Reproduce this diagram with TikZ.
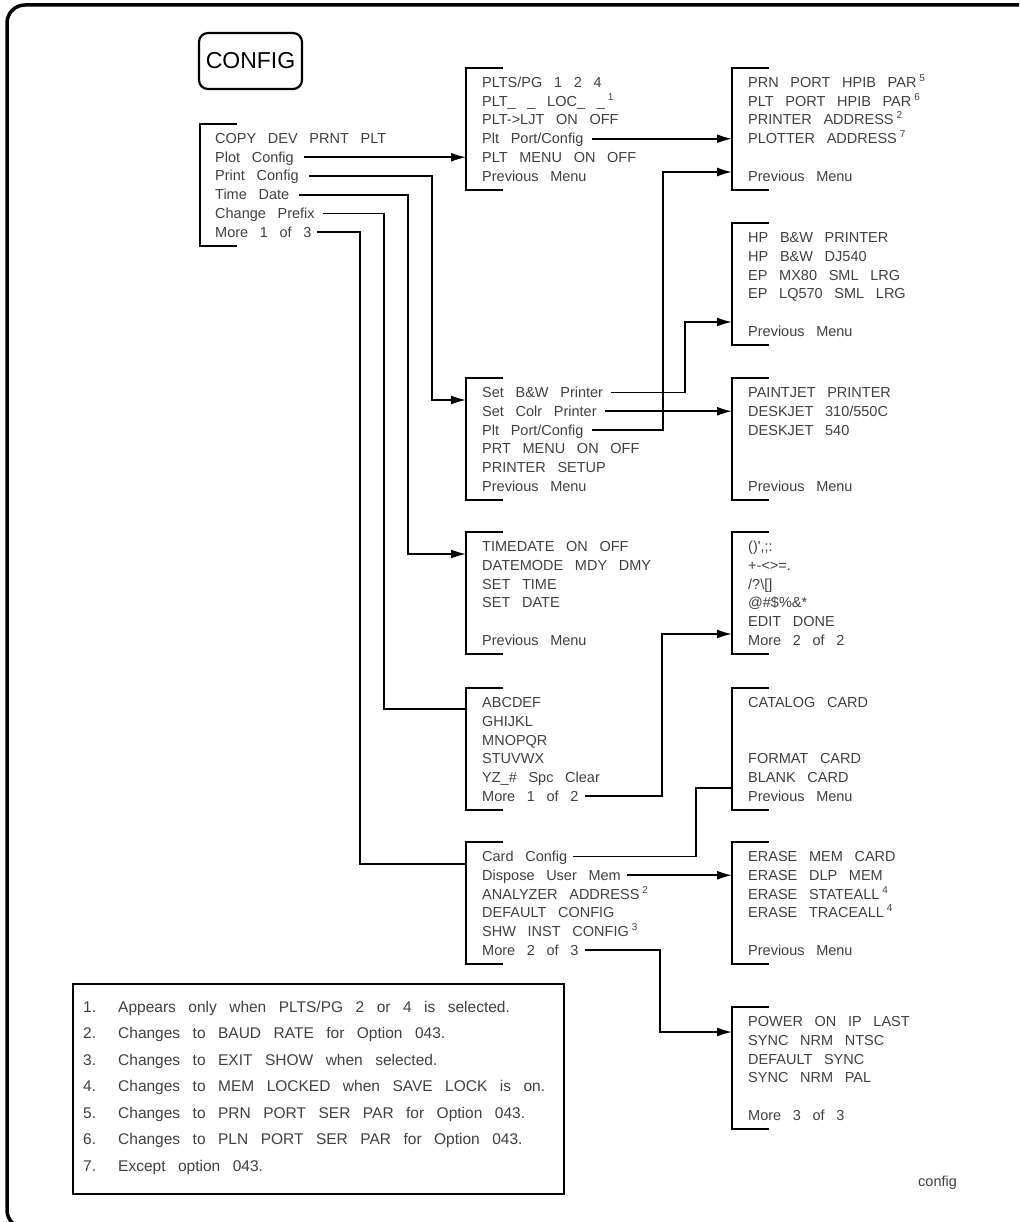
\documentclass[tikz,border=0pt]{standalone}
\usepackage{fontspec}
\setmainfont{Liberation Sans}[WordSpace=2.9]
\usetikzlibrary{arrows.meta}
\newcommand{\fnote}[1]{\hspace{3pt}\raisebox{6pt}{\fontsize{10}{12}\selectfont #1}}

\begin{document}
\begin{tikzpicture}[x=1pt, y=-1pt,
    bracket/.style={line width=2pt},
    conn/.style={line width=1.6pt},
    arrow/.style={conn, -{Latex[length=15pt,width=9pt]}},
    item/.style={anchor=west, inner sep=0pt, text height=10pt, text depth=0pt, text=black!75, font=\fontsize{14.5}{16}\selectfont},
    note/.style={item, font=\fontsize{15.5}{17}\selectfont},
    key/.style={draw, line width=2.2pt, rounded corners=9pt, minimum width=103pt, minimum height=56pt, inner sep=0pt, font=\fontsize{23}{26}\selectfont}]
    %Page
    \useasboundingbox (0,0) rectangle (1019,1222);
    \clip (0,0) rectangle (1019,1222);
    \draw[line width=3.5pt, rounded corners=18pt] (7,5) rectangle (1040,1228);

    %Key
    \node[key] (config) at (250.5,61) {CONFIG};

    %Entry Points
    \coordinate (plt-in) at (466,157.25);
    \coordinate (prt-in) at (466,400);
    \coordinate (time-in) at (466,554);
    \coordinate (alpha-in) at (466,709);
    \coordinate (card-in) at (466,864);
    \coordinate (prn-in) at (732,138.75);
    \coordinate (prn-back) at (732,172);
    \coordinate (hp-in) at (732,322);
    \coordinate (pj-in) at (732,411.25);
    \coordinate (chars-in) at (732,634);
    \coordinate (cat-in) at (732,788);
    \coordinate (erase-in) at (732,875.25);
    \coordinate (power-in) at (732,1032);

        %Main Menu
    \draw[bracket] (237,124) -| (200,246) -- ++(37,0);
    \foreach \row/\txt in {1/{COPY DEV PRNT PLT}, 2/{Plot Config}, 3/{Print Config}, 4/{Time Date}, 5/{Change Prefix}, 6/{More 1 of 3}}
        \node[item] (main-\row) at (215, {138.5+18.75*(\row-1)}) {\txt};

        %Middle Column
    \draw[bracket] (503,68) -| (466,190) -- ++(37,0);
    \foreach \row/\txt in {1/{PLTS/PG 1 2 4}, 2/{PLT\_ \_ LOC\_ \_\fnote{1}}, 3/{PLT-{}>LJT ON OFF}, 4/{Plt Port/Config}, 5/{PLT MENU ON OFF}, 6/{Previous Menu}}
        \node[item] (plt-\row) at (482, {82.5+18.75*(\row-1)}) {\txt};
    \draw[bracket] (503,378) -| (466,500) -- ++(37,0);
    \foreach \row/\txt in {1/{Set B\&W Printer}, 2/{Set Colr Printer}, 3/{Plt Port/Config}, 4/{PRT MENU ON OFF}, 5/{PRINTER SETUP}, 6/{Previous Menu}}
        \node[item] (prt-\row) at (482, {392.5+18.75*(\row-1)}) {\txt};
    \draw[bracket] (503,532) -| (466,654) -- ++(37,0);
    \foreach \row/\txt in {1/{TIMEDATE ON OFF}, 2/{DATEMODE MDY DMY}, 3/{SET TIME}, 4/{SET DATE}, 6/{Previous Menu}}
        \node[item] (time-\row) at (482, {546.5+18.75*(\row-1)}) {\txt};
    \draw[bracket] (503,688) -| (466,810) -- ++(37,0);
    \foreach \row/\txt in {1/ABCDEF, 2/GHIJKL, 3/MNOPQR, 4/STUVWX, 5/{YZ\_\# Spc Clear}, 6/{More 1 of 2}}
        \node[item] (alpha-\row) at (482, {702.5+18.75*(\row-1)}) {\txt};
    \draw[bracket] (503,842) -| (466,964) -- ++(37,0);
    \foreach \row/\txt in {1/{Card Config}, 2/{Dispose User Mem}, 3/{ANALYZER ADDRESS\fnote{2}}, 4/{DEFAULT CONFIG}, 5/{SHW INST CONFIG\fnote{3}}, 6/{More 2 of 3}}
        \node[item] (card-\row) at (482, {856.5+18.75*(\row-1)}) {\txt};

        %Right Column
    \draw[bracket] (769,68) -| (732,190) -- ++(37,0);
    \foreach \row/\txt in {1/{PRN PORT HPIB PAR\fnote{5}}, 2/{PLT PORT HPIB PAR\fnote{6}}, 3/{PRINTER ADDRESS\fnote{2}}, 4/{PLOTTER ADDRESS\fnote{7}}, 6/{Previous Menu}}
        \node[item] (prn-\row) at (748, {82.5+18.75*(\row-1)}) {\txt};
    \draw[bracket] (769,223) -| (732,345) -- ++(37,0);
    \foreach \row/\txt in {1/{HP B\&W PRINTER}, 2/{HP B\&W DJ540}, 3/{EP MX80 SML LRG}, 4/{EP LQ570 SML LRG}, 6/{Previous Menu}}
        \node[item] (hp-\row) at (748, {237.5+18.75*(\row-1)}) {\txt};
    \draw[bracket] (769,378) -| (732,500) -- ++(37,0);
    \foreach \row/\txt in {1/{PAINTJET PRINTER}, 2/{DESKJET 310/550C}, 3/{DESKJET 540}, 6/{Previous Menu}}
        \node[item] (pj-\row) at (748, {392.5+18.75*(\row-1)}) {\txt};
    \draw[bracket] (769,532) -| (732,654) -- ++(37,0);
    \foreach \row/\txt in {1/{()\textquotesingle,;:}, 2/{+-<>=.}, 3/{/?\textbackslash{[]}}, 4/{@\#\$\%\&*}, 5/{EDIT DONE}, 6/{More 2 of 2}}
        \node[item] (chars-\row) at (748, {546.5+18.75*(\row-1)}) {\txt};
    \draw[bracket] (769,688) -| (732,810) -- ++(37,0);
    \foreach \row/\txt in {1/{CATALOG CARD}, 4/{FORMAT CARD}, 5/{BLANK CARD}, 6/{Previous Menu}}
        \node[item] (cat-\row) at (748, {702.5+18.75*(\row-1)}) {\txt};
    \draw[bracket] (769,842) -| (732,964) -- ++(37,0);
    \foreach \row/\txt in {1/{ERASE MEM CARD}, 2/{ERASE DLP MEM}, 3/{ERASE STATEALL\fnote{4}}, 4/{ERASE TRACEALL\fnote{4}}, 6/{Previous Menu}}
        \node[item] (erase-\row) at (748, {856.5+18.75*(\row-1)}) {\txt};
    \draw[bracket] (769,1007) -| (732,1129) -- ++(37,0);
    \foreach \row/\txt in {1/{POWER ON IP LAST}, 2/{SYNC NRM NTSC}, 3/{DEFAULT SYNC}, 4/{SYNC NRM PAL}, 6/{More 3 of 3}}
        \node[item] (power-\row) at (748, {1021.5+18.75*(\row-1)}) {\txt};

        %Connectors
    \draw[arrow] ([xshift=10pt]main-2.east) -- (plt-in);
    \draw[arrow] ([xshift=10pt]main-3.east) -| ([xshift=-34pt]prt-in) -- (prt-in);
    \draw[arrow] ([xshift=10pt]main-4.east) -| ([xshift=-58pt]time-in) -- (time-in);
    \draw[conn] ([xshift=8pt]main-5.east) -| ([xshift=-82pt]alpha-in) -- (alpha-in);
    \draw[conn] ([xshift=5pt]main-6.east) -| ([xshift=-106pt]card-in) -- (card-in);
    \draw[arrow] ([xshift=8pt]plt-4.east) -- (prn-in);
    \draw[arrow] ([xshift=8pt]prt-1.east) -| ([xshift=-47pt]hp-in) -- (hp-in);
    \draw[arrow] ([xshift=8pt]prt-2.east) -- (pj-in);
    \draw[arrow] ([xshift=8pt]prt-3.east) -| ([xshift=-69pt]prn-back) -- (prn-back);
    \draw[arrow] ([xshift=6pt]alpha-6.east) -| ([xshift=-70pt]chars-in) -- (chars-in);
    \draw[conn] ([xshift=6pt]card-1.east) -| ([xshift=-36pt]cat-in) -- (cat-in);
    \draw[arrow] ([xshift=6pt]card-2.east) -- (erase-in);
    \draw[arrow] ([xshift=6pt]card-6.east) -| ([xshift=-72pt]power-in) -- (power-in);

    %Notes
    \draw[line width=1.8pt] (73,984) rectangle (564,1194);
    \foreach \txt [count=\i] in {{Appears only when PLTS/PG 2 or 4 is selected.}, {Changes to BAUD RATE for Option 043.}, {Changes to EXIT SHOW when selected.}, {Changes to MEM LOCKED when SAVE LOCK is on.}, {Changes to PRN PORT SER PAR for Option 043.}, {Changes to PLN PORT SER PAR for Option 043.}, {Except option 043.}}
    {
        \node[note] (num-\i) at (83, {1007+26.5*(\i-1)}) {\i.};
        \node[note] (note-\i) at (118, {1007+26.5*(\i-1)}) {\txt};
    }
    \node[item] (label) at (918,1181) {config};
\end{tikzpicture}
\end{document}
